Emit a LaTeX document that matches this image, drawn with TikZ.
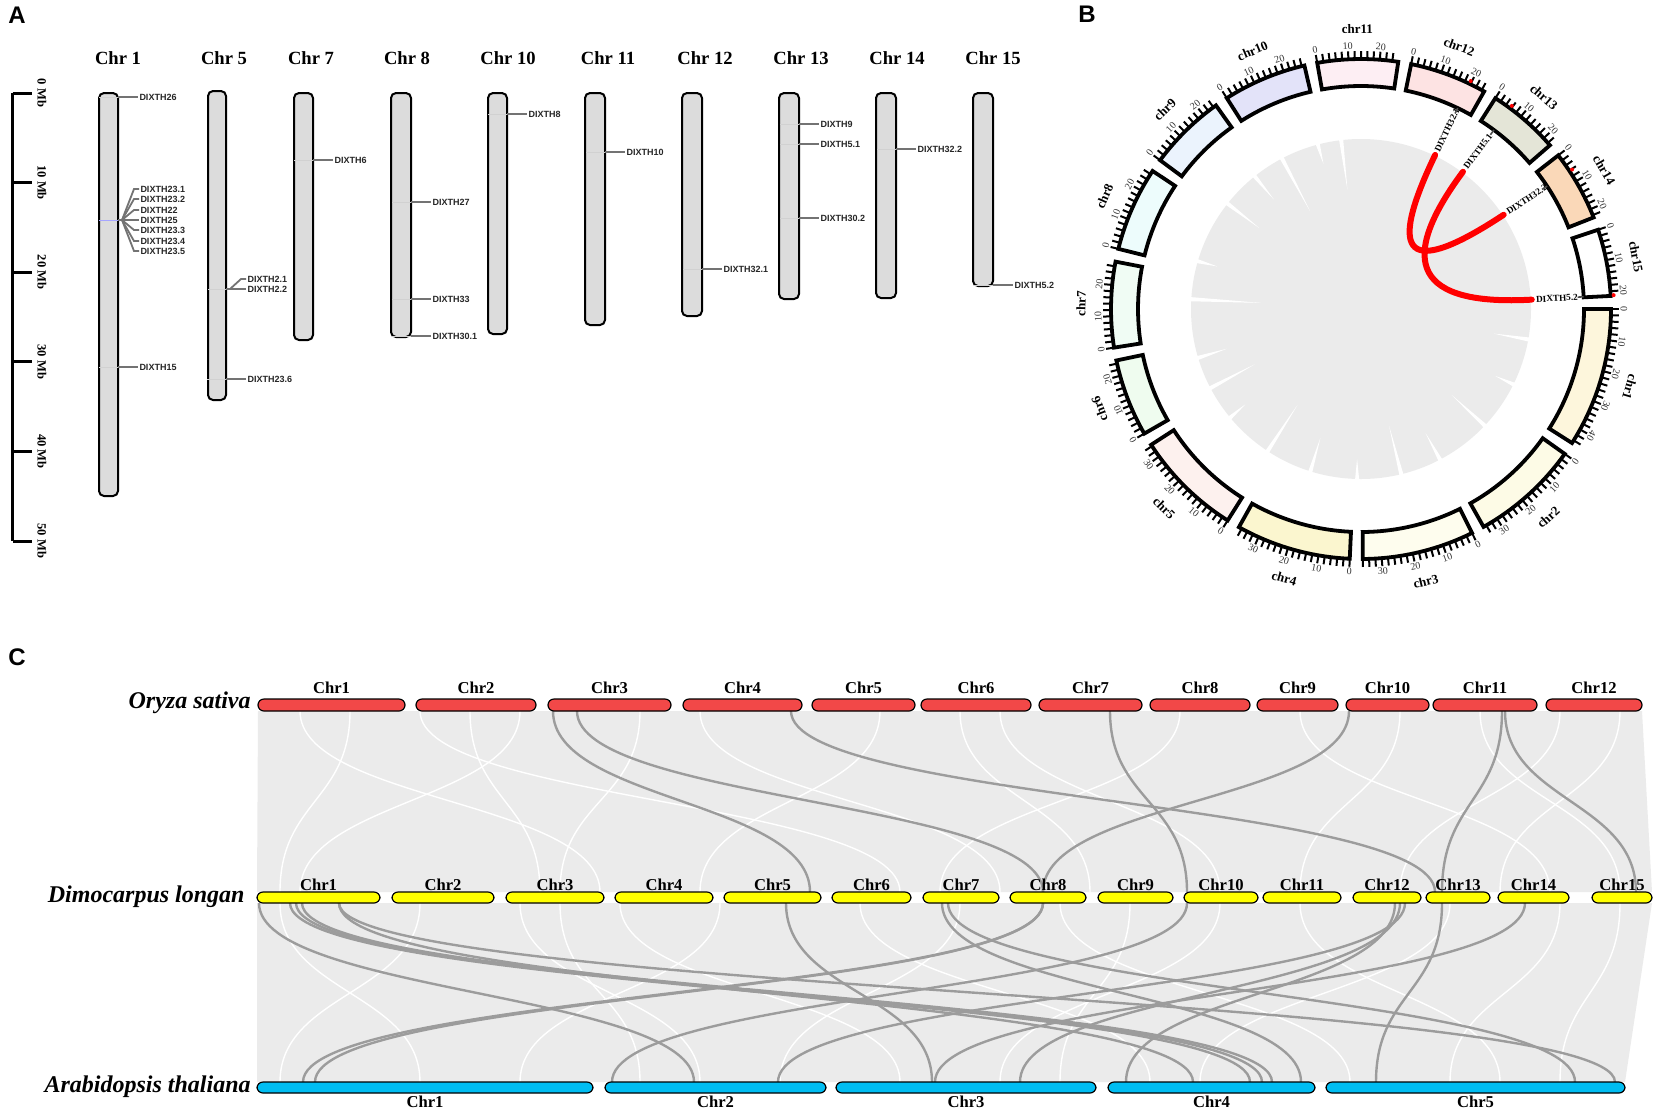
\documentclass[tikz,border=0pt]{standalone}
\usepackage{fontspec}
\setmainfont{Liberation Serif}
\newfontfamily\sansfont{Liberation Sans}
\usetikzlibrary{calc}

\definecolor{osred}{HTML}{F24848}
\definecolor{dlyellow}{HTML}{FFFF00}
\definecolor{atblue}{HTML}{00BDF2}
\definecolor{synbg}{HTML}{EBEBEB}
\definecolor{synlink}{HTML}{9C9C9C}
\definecolor{chrfill}{HTML}{DCDCDC}
\definecolor{cb1}{HTML}{FDF6DC}
\definecolor{cb2}{HTML}{FDFBE6}
\definecolor{cb3}{HTML}{FEFDEE}
\definecolor{cb4}{HTML}{FBF6CF}
\definecolor{cb5}{HTML}{FDF1EE}
\definecolor{cb6}{HTML}{EFFCEF}
\definecolor{cb7}{HTML}{F0FCF4}
\definecolor{cb8}{HTML}{EDFCFC}
\definecolor{cb9}{HTML}{EBF3FD}
\definecolor{cb10}{HTML}{E3E3F9}
\definecolor{cb11}{HTML}{FDEEF3}
\definecolor{cb12}{HTML}{FDE3E3}
\definecolor{cb13}{HTML}{E4E5D7}
\definecolor{cb14}{HTML}{FAD8B8}
\definecolor{cb15}{HTML}{FFFFFF}

\newcommand{\fsz}[1]{\fontsize{#1}{#1}\selectfont}

\tikzset{
  panel/.style={anchor=north west, inner sep=0pt, font=\sansfont\bfseries\fsz{12pt}},
  chrbox/.style={draw=black, line width=1pt, fill=chrfill, rounded corners=2.5pt},
  chrname/.style={anchor=base, inner sep=0pt, font=\bfseries\fsz{9.3pt}},
  mblab/.style={rotate=-90, inner sep=0pt, font=\bfseries\fsz{6.3pt}},
  genetick/.style={draw=black!55, line width=0.9pt},
  geneband/.style={draw=black!18, line width=0.4pt},
  genelab/.style={anchor=west, inner sep=0.3pt, font=\sansfont\bfseries\fsz{4.5pt}, text=black!85},
  ideo/.style={draw=black, line width=1.9pt},
  tickmark/.style={draw=black, line width=1pt},
  ticknum/.style={inner sep=0pt, font=\fsz{5pt}, text=black!80},
  ideolab/.style={inner sep=0pt, font=\bfseries\fsz{6.5pt}},
  genelabB/.style={anchor=west, inner sep=0pt, font=\bfseries\fsz{4.6pt}},
  chord/.style={draw=red, line width=3pt, line cap=round},
  synline/.style={draw=synlink, line width=1.2pt},
  syngap/.style={draw=white, line width=0.7pt},
  bar/.style={draw=black, line width=0.6pt, rounded corners=3pt},
  barname/.style={anchor=base, inner sep=0pt, font=\bfseries\fsz{8.3pt}},
  species/.style={anchor=base east, inner sep=0pt, font=\bfseries\itshape\fsz{12pt}},
}

\begin{document}
\begin{tikzpicture}[x=0.5pt, y=-0.5pt]
\useasboundingbox (0,0) rectangle (1654,1110);

% panel letters
\node[panel] (pa) at (8,7) {A};
\node[panel] (pb) at (1078,6) {B};
\node[panel] (pc) at (8,648) {C};

% ---------- A: chromosome map ----------
\draw[line width=1.2pt] (12.5,93) -- (12.5,541);
\foreach \k/\v in {0/0,1/10,2/20,3/30,4/40,5/50} {
  \draw[line width=1.5pt] (12.5,{93+89.6*\k}) -- (32,{93+89.6*\k});
  \node[mblab] (mb\k) at (42,{93+89.6*\k}) {\v\ Mb};
}

\foreach \a/\b/\t/\e/\lx/\n in {99/118/93/496/118/1, 208/226/91/400/224/5, 294/313/93/340/311/7,
    391/411/93/337/407/8, 488/507/93/334/508/10, 585/605/93/325/608/11, 682/702/93/316/705/12,
    779/799/93/299/801/13, 876/896/93/298/897/14, 973/993/93/286/993/15} {
  \draw[chrbox] (\a,\t) rectangle (\b,\e);
  \node[chrname] (chr\n) at (\lx,64) {Chr \n};
}

% single genes
\foreach \gx/\gy/\gn [count=\i] in {118/97/DIXTH26, 118/367/DIXTH15, 226/379/DIXTH23.6,
    313/160/DIXTH6, 411/202/DIXTH27, 411/299/DIXTH33, 411/336/DIXTH30.1, 507/114/DIXTH8,
    605/152/DIXTH10, 702/269/DIXTH32.1, 799/124/DIXTH9, 799/144/DIXTH5.1, 799/218/DIXTH30.2,
    896/149/DIXTH32.2, 993/285/DIXTH5.2} {
  \draw[geneband] ({\gx-19},\gy) -- (\gx,\gy);
  \draw[genetick] (\gx,\gy) -- ++(20,0) node[genelab] (ga\i) {\gn};
}

% clusters on Chr 1 and Chr 5
\draw[draw=blue!35, line width=0.4pt] (99,220) -- (118,220);
\foreach \gy/\gn [count=\i] in {189/DIXTH23.1, 199/DIXTH23.2, 210/DIXTH22, 220/DIXTH25,
    230/DIXTH23.3, 241/DIXTH23.4, 251/DIXTH23.5} {
  \draw[genetick] (118,220) -- (122,220) -- (134,\gy) -- (139,\gy) node[genelab] (gc\i) {\gn};
}
\draw[geneband] (208,289) -- (226,289);
\foreach \gy/\gn [count=\i] in {279/DIXTH2.1, 289/DIXTH2.2} {
  \draw[genetick] (226,289) -- (230,289) -- (241,\gy) -- (246,\gy) node[genelab] (gd\i) {\gn};
}

% ---------- B: circos ----------
\begin{scope}[shift={(1361,309)}, x=0.5pt, y=0.5pt]
  \fill[synbg] (0,0) circle[radius=170];
  \foreach \w/\d in {96/120, 104/150, 117/110, 128/140, 141/130, 163/150, 176/100, 196/140,
      207/120, 219/150, 236/115, 252/135, 268/150, 283/120, 297/140, 316/125, 333/150, 349/135} {
    \fill[white] (\w:171) -- ({\w+1.4}:171) -- ({\w+0.5}:\d) -- cycle;
  }

  \foreach \n/\a/\L/\f in {1/0/45/0, 2/-35.42/35/1, 3/-63.64/36/1, 4/-92.58/37/1,
      5/-122.24/34.5/1, 6/-150.10/25/0, 7/-171.11/27.5/0, 8/-193.92/27.2/0, 9/-216.52/25/0,
      10/-237.53/26.9/0, 11/-259.91/25.9/0, 12/-281.57/24.9/0, 13/-302.51/23/0,
      14/-322.08/22.8/0, 15/-341.51/21.5/0} {
    \pgfmathsetmacro\aE{\a-\L*0.7205}
    \pgfmathsetmacro\aM{(\a+\aE)/2}
    \pgfmathsetmacro\aR{\aM-90+180*\f}
    \draw[ideo, fill=cb\n] (\a:223) arc[start angle=\a, end angle=\aE, radius=223]
      -- (\aE:250) arc[start angle=\aE, end angle=\a, radius=250] -- cycle;
    \foreach \t in {0,2,...,\L}
      \draw[tickmark] ({\a-\t*0.7205}:251) -- ({\a-\t*0.7205}:258);
    \foreach \t in {0,10,...,\L}
      \node[ticknum, rotate={\a-\t*0.7205-90+180*\f}] at ({\a-\t*0.7205}:263) {\t};
    \node[ideolab, rotate=\aR] (ideo\n) at (\aM:280) {chr\n};
  }

  \foreach \g/\th [count=\i] in {DIXTH32.1/64.3, DIXTH5.1/53.4, DIXTH32.2/33.45, DIXTH5.2/3.14} {
    \node[genelabB, rotate=\th] (gb\i) at (\th:175) {\g};
    \draw[black!70, line width=0.8pt] (\th:217) -- (\th:223);
    \fill[red] (\th:253) circle[radius=2];
    \coordinate (e\i) at (\th:171);
  }
  \draw[chord] (e1) .. controls ($(0,0)!0.33!(e1)$) and ($(0,0)!0.33!(e3)$) .. (e3);
  \draw[chord] (e2) .. controls ($(0,0)!0.33!(e2)$) and ($(0,0)!0.33!(e4)$) .. (e4);
\end{scope}

% ---------- C: synteny ----------
\fill[synbg] (258,711) -- (1642,711) -- (1652,892) -- (257,892) -- cycle;
\fill[synbg] (257,903) -- (1652,903) -- (1625,1082) -- (257,1082) -- cycle;

% gaps between the background blocks
\foreach \p/\q in {300/600, 350/280, 420/900, 520/300, 640/560, 700/1000, 880/700, 1000/1220,
    1180/940, 1300/1550, 1400/1300, 1480/1620, 1560/1400, 1620/1500, 470/540, 960/1090}
  \draw[syngap] (\p,711) .. controls (\p,801) and (\q,801) .. (\q,892);
\foreach \p/\q in {280/420, 420/280, 520/700, 620/900, 720/520, 860/1150, 960/780, 1060/1350,
    1220/1000, 1300/1500, 1450/1200, 1560/1450, 1620/1560, 560/640, 1130/1060}
  \draw[syngap] (\p,903) .. controls (\p,993) and (\q,993) .. (\q,1082);

\foreach \p/\q in {553/810, 577/1043, 791/1435, 1110/1187, 1349/1043, 1502/1442, 1505/1636}
  \draw[synline] (\p,711) .. controls (\p,801) and (\q,801) .. (\q,892);
\foreach \p/\q in {259/694, 290/1250, 296/1262, 302/1272, 339/1615, 339/1193, 786/932,
    942/1301, 948/1575, 1043/303, 1043/315, 1187/612, 1405/778, 1400/1020, 1395/1126,
    1442/1376, 1525/935}
  \draw[synline] (\p,903) .. controls (\p,993) and (\q,993) .. (\q,1082);

\foreach \a/\b [count=\i] in {258/405, 416/536, 548/671, 683/802, 812/915, 921/1031,
    1039/1142, 1150/1250, 1257/1338, 1346/1429, 1433/1537, 1546/1642} {
  \draw[bar, fill=osred] (\a,699) rectangle (\b,711);
  \node[barname] (os\i) at ({(\a+\b)/2},693) {Chr\i};
}
\foreach \a/\b [count=\i] in {257/380, 392/494, 506/604, 615/713, 724/821, 832/911, 923/999,
    1010/1086, 1098/1173, 1184/1258, 1263/1341, 1353/1421, 1426/1490, 1498/1569, 1592/1652} {
  \draw[bar, fill=dlyellow] (\a,892) rectangle (\b,903);
  \node[barname] (dl\i) at ({(\a+\b)/2},890) {Chr\i};
}
\foreach \a/\b [count=\i] in {257/593, 605/826, 836/1096, 1108/1315, 1326/1625} {
  \draw[bar, fill=atblue] (\a,1082) rectangle (\b,1093);
  \node[barname] (at\i) at ({(\a+\b)/2},1107) {Chr\i};
}

\node[species] (spOs) at (251,708) {Oryza sativa};
\node[species] (spDl) at (245,902) {Dimocarpus longan};
\node[species] (spAt) at (251,1092) {Arabidopsis thaliana};
\end{tikzpicture}
\end{document}
